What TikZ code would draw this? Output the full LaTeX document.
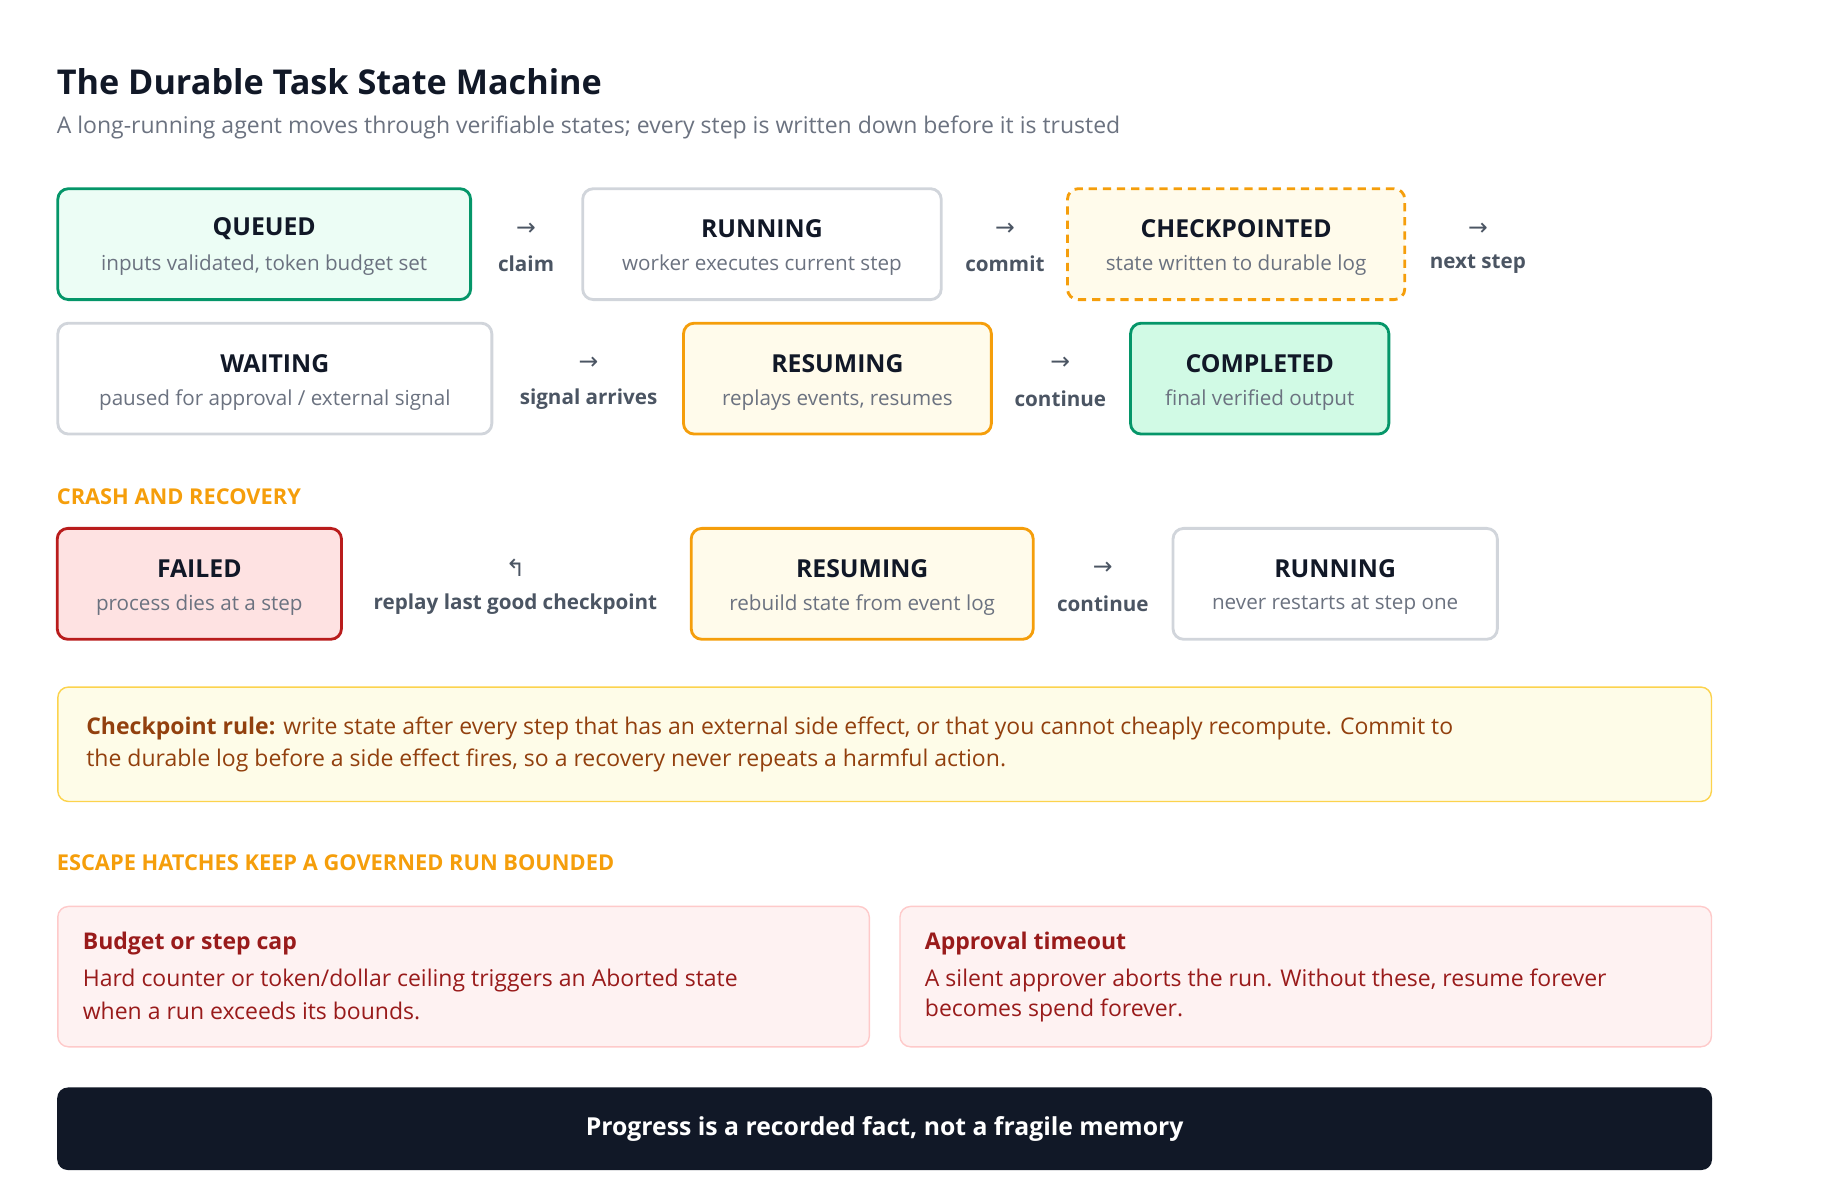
\documentclass[tikz,border=0pt]{standalone}
\usepackage{fontspec}
\setmainfont{Open Sans}
\newfontfamily\symfont{DejaVu Sans}
\usetikzlibrary{positioning}
\definecolor{ink}{HTML}{111827}
\definecolor{muted}{HTML}{6B7280}
\definecolor{label}{HTML}{4B5563}
\definecolor{greenline}{HTML}{059669}
\definecolor{greenpale}{HTML}{ECFDF5}
\definecolor{greenfill}{HTML}{D1FAE5}
\definecolor{greyline}{HTML}{D1D5DB}
\definecolor{amber}{HTML}{F59E0B}
\definecolor{amberpale}{HTML}{FFFBEB}
\definecolor{redline}{HTML}{B91C1C}
\definecolor{redfill}{HTML}{FEE2E2}
\definecolor{rulefill}{HTML}{FEFCE8}
\definecolor{ruleline}{HTML}{FCD34D}
\definecolor{brown}{HTML}{92400E}
\definecolor{hatchfill}{HTML}{FEF2F2}
\definecolor{hatchline}{HTML}{FECACA}
\definecolor{darkred}{HTML}{991B1B}
\tikzset{
  state/.style={draw, line width=2.4pt, rounded corners=9pt, inner sep=0pt},
  head/.style={font=\bfseries\fontsize{21}{26}\selectfont, text=ink},
  sub/.style={font=\fontsize{17.5}{22}\selectfont, text=muted},
  trans/.style={font=\bfseries\fontsize{17.5}{22}\selectfont, text=label},
  arrowglyph/.style={font=\symfont\fontsize{20}{24}\selectfont, text=label},
  section/.style={anchor=west, font=\bfseries\fontsize{18.5}{23}\selectfont, text=amber},
  body/.style={anchor=west, font=\fontsize{19.5}{25}\selectfont}
}
\begin{document}
\begin{tikzpicture}[x=1pt, y=-1pt]
  \useasboundingbox (0,0) rectangle (1560,1000);

  % Heading
  \node[anchor=base west, font=\bfseries\fontsize{29}{34}\selectfont, text=ink, inner sep=0pt]
    (title) at (48,80) {The Durable Task State Machine};
  \node[anchor=west, font=\fontsize{19.5}{24}\selectfont, text=muted, inner sep=0pt]
    (subtitle) at (48,108) {A long-running agent moves through verifiable states; every step is written down before it is trusted};

  % Row 1
  \node[state, draw=greenline, fill=greenpale, minimum width=350pt, minimum height=94pt] (queued) at (224,207) {};
  \node[head] at (224,194) {QUEUED};
  \node[sub] at (224,225) {inputs validated, token budget set};
  \node[arrowglyph] (a1) at (446,194) {→};
  \node[trans] at (446,224) {claim};
  \node[state, draw=greyline, fill=white, minimum width=304pt, minimum height=94pt] (running) at (646,207) {};
  \node[head] at (646,194) {RUNNING};
  \node[sub] at (646,225) {worker executes current step};
  \node[arrowglyph] (a2) at (852,194) {→};
  \node[trans] at (852,224) {commit};
  \node[state, draw=amber, fill=amberpale, dashed, dash pattern=on 7pt off 5pt, minimum width=286pt, minimum height=94pt] (checkpointed) at (1048,207) {};
  \node[head] at (1048,194) {CHECKPOINTED};
  \node[sub] at (1048,225) {state written to durable log};
  \node[arrowglyph] (a3) at (1253,194) {→};
  \node[trans] at (1253,224) {next step};

  % Row 2
  \node[state, draw=greyline, fill=white, minimum width=368pt, minimum height=94pt] (waiting) at (233,321) {};
  \node[head] at (233,308) {WAITING};
  \node[sub] at (233,339) {paused for approval / external signal};
  \node[arrowglyph] (a4) at (499,308) {→};
  \node[trans] at (499,338) {signal arrives};
  \node[state, draw=amber, fill=amberpale, minimum width=261pt, minimum height=94pt] (resuming) at (710,321) {};
  \node[head] at (710,308) {RESUMING};
  \node[sub] at (710,339) {replays events, resumes};
  \node[arrowglyph] (a5) at (899,308) {→};
  \node[trans] at (899,338) {continue};
  \node[state, draw=greenline, fill=greenfill, minimum width=219pt, minimum height=94pt] (completed) at (1068,321) {};
  \node[head] at (1068,308) {COMPLETED};
  \node[sub] at (1068,339) {final verified output};

  % Crash and recovery
  \node[section, inner sep=0pt] (crash) at (48,421) {CRASH AND RECOVERY};
  \node[state, draw=redline, fill=redfill, minimum width=241pt, minimum height=94pt] (failed) at (169,495) {};
  \node[head] at (169,482) {FAILED};
  \node[sub] at (169,513) {process dies at a step};
  \node[arrowglyph] (a6) at (437,481) {↰};
  \node[trans] at (437,512) {replay last good checkpoint};
  \node[state, draw=amber, fill=amberpale, minimum width=290pt, minimum height=94pt] (rebuild) at (731,495) {};
  \node[head] at (731,482) {RESUMING};
  \node[sub] at (731,513) {rebuild state from event log};
  \node[arrowglyph] (a7) at (935,482) {→};
  \node[trans] at (935,512) {continue};
  \node[state, draw=greyline, fill=white, minimum width=275pt, minimum height=94pt] (rerun) at (1132,495) {};
  \node[head] at (1132,482) {RUNNING};
  \node[sub] at (1132,513) {never restarts at step one};

  % Checkpoint rule
  \node[draw=ruleline, fill=rulefill, line width=1.2pt, rounded corners=9pt, minimum width=1402pt, minimum height=97pt] (rule) at (750,631) {};
  \node[body, text=brown, inner sep=0pt] at (73,618) {\textbf{Checkpoint rule:} write state after every step that has an external side effect, or that you cannot cheaply recompute. Commit to};
  \node[body, text=brown, inner sep=0pt] at (73,645) {the durable log before a side effect fires, so a recovery never repeats a harmful action.};

  % Escape hatches
  \node[section, inner sep=0pt] (escape) at (48,731) {ESCAPE HATCHES KEEP A GOVERNED RUN BOUNDED};
  \node[draw=hatchline, fill=hatchfill, line width=1.2pt, rounded corners=9pt, minimum width=688pt, minimum height=119pt] (budget) at (393,828) {};
  \node[body, text=darkred, inner sep=0pt, font=\bfseries\fontsize{19.5}{25}\selectfont] at (70,800) {Budget or step cap};
  \node[body, text=darkred, inner sep=0pt] at (70,831) {Hard counter or token/dollar ceiling triggers an Aborted state};
  \node[body, text=darkred, inner sep=0pt] at (70,857) {when a run exceeds its bounds.};
  \node[draw=hatchline, fill=hatchfill, line width=1.2pt, rounded corners=9pt, minimum width=688pt, minimum height=119pt] (timeout) at (1107,828) {};
  \node[body, text=darkred, inner sep=0pt, font=\bfseries\fontsize{19.5}{25}\selectfont] at (784,800) {Approval timeout};
  \node[body, text=darkred, inner sep=0pt] at (784,831) {A silent approver aborts the run. Without these, resume forever};
  \node[body, text=darkred, inner sep=0pt] at (784,857) {becomes spend forever.};

  % Closing banner
  \node[fill=ink, rounded corners=9pt, minimum width=1403pt, minimum height=70pt, text=white,
    font=\bfseries\fontsize{21}{26}\selectfont] (banner) at (750,957) {Progress is a recorded fact, not a fragile memory};
\end{tikzpicture}
\end{document}
